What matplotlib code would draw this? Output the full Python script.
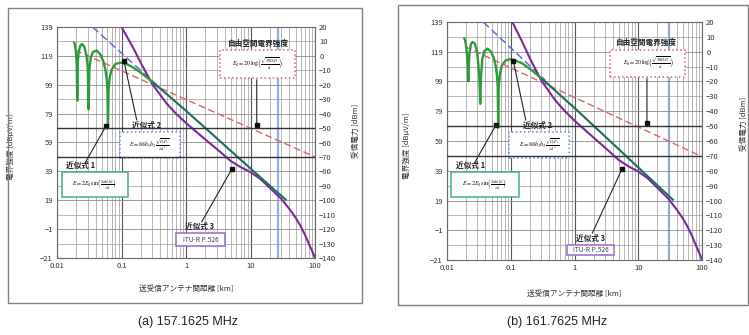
import matplotlib
matplotlib.use('Agg')
import matplotlib.pyplot as plt
from matplotlib.patches import Rectangle
from matplotlib.ticker import FixedLocator, LogLocator, NullFormatter
import numpy as np

plt.rcParams['font.family'] = ['Noto Sans CJK JP', 'DejaVu Sans']
plt.rcParams['mathtext.fontset'] = 'stix'

# values, distance in km, field strength in dBuV/m
captions = ['(a) 157.1625 MHz', '(b) 161.7625 MHz']

green_d_a = [0.0185, 0.019, 0.0196, 0.0202, 0.0206, 0.021, 0.0216, 0.0228, 0.0244, 0.0265,
             0.0285, 0.030, 0.0309, 0.0318, 0.0335, 0.036, 0.0412, 0.047, 0.052, 0.056,
             0.059, 0.0605, 0.0617, 0.063, 0.0655, 0.07, 0.08, 0.095, 0.115, 0.15, 0.2, 0.3]
green_e_a = [128, 126.4, 122.3, 113.9, 88, 114, 121, 125.8, 127.2, 125.3,
             119.9, 110.7, 82, 110.2, 118, 121.7, 122.7, 120, 115.6, 110.1,
             102.9, 95.6, 70, 94.9, 103.7, 109.2, 113.3, 114.3, 113.8, 111.1, 107.3, 101.1]
green_d_b = [0.0187, 0.0193, 0.0199, 0.0206, 0.0212, 0.0216, 0.022, 0.0226, 0.0238, 0.0252,
             0.0273, 0.0295, 0.031, 0.0322, 0.0332, 0.0342, 0.0358, 0.0385, 0.0433, 0.049,
             0.054, 0.058, 0.061, 0.0625, 0.0635, 0.0647, 0.0675, 0.072, 0.082, 0.097,
             0.113, 0.15, 0.2, 0.3]
green_e_b = [128, 126.5, 123, 117, 108, 99, 110, 118.5, 124.3, 125.6,
             124.5, 119.5, 111, 101, 84, 103, 114, 119.5, 121.1, 119,
             115, 109.5, 102.5, 95, 68, 95, 104, 109.5, 113, 114,
             113.3, 111.3, 107.5, 101.3]

teal_d = [0.3, 0.5, 1, 2, 5, 10, 20, 35]
teal_e_a = [101.1, 92.6, 81, 69, 53, 41, 29, 19.5]
teal_e_b = [101.3, 92.8, 81.2, 69.2, 53.3, 41.2, 29.2, 19.5]

purple_d_a = [0.1, 0.15, 0.2, 0.3, 0.5, 0.7, 1, 2, 3, 5, 7, 10, 14, 20, 30, 40, 50, 60, 70, 80, 90, 100]
purple_d_b = [0.106, 0.15, 0.2, 0.3, 0.5, 0.7, 1, 2, 3, 5, 7, 10, 14, 20, 30, 40, 50, 60, 70, 80, 90, 100]
purple_e_a = [139, 125, 114, 99.5, 86, 79, 72.5, 61, 54.5, 46, 42, 38.5, 34, 27.5, 20, 13, 7, 1, -5, -11, -16, -21]
purple_e_b = [139, 126, 114.5, 99.8, 86.3, 79.3, 72.7, 61.2, 54.6, 46.1, 42, 38.5, 34, 27.5, 20, 13, 7, 1, -5, -11, -16, -21]

red_d = [0.019, 100]
red_e_a = [123, 49]
red_e_b = [122.5, 48.5]

blue_d_a = [0.0355, 0.35]
blue_d_b = [0.037, 0.35]
blue_e_a = [139, 99]
blue_e_b = [139, 99.7]

horizon_km = [27, 30]
dark_levels_dbm = [-50, -70]

fig = plt.figure(figsize=(7.49, 3.35), dpi=100)

# panel frames (figure pixels)
fig.add_artist(Rectangle((8 / 749, 1 - 303 / 335), 354 / 749, 295 / 335, transform=fig.transFigure,
                         fill=False, edgecolor='#808080', lw=1.0))
fig.add_artist(Rectangle((398 / 749, 1 - 305 / 335), 350 / 749, 300 / 335, transform=fig.transFigure,
                         fill=False, edgecolor='#808080', lw=1.0))

ax_a = fig.add_axes([57 / 749, 1 - 258 / 335, 258 / 749, 231 / 335])
ax_b = fig.add_axes([447 / 749, 1 - 260 / 335, 255 / 749, 238 / 335])

txtc = '#333333'


def box(ax, x0, x1, y0, y1, color, ls):
    r = Rectangle((x0, y0), x1 - x0, y1 - y0, fill=True, facecolor='white', edgecolor=color,
                  lw=1.1, ls=ls, zorder=6)
    ax.add_patch(r)


def pointer(ax, tail, tip):
    ax.annotate('', xy=tip, xytext=tail, zorder=7,
                arrowprops=dict(arrowstyle='-', color='#222222', lw=0.8, shrinkA=0, shrinkB=0))
    ax.plot([tip[0]], [tip[1]], marker='s', ms=2.3, color='#111111', zorder=8)


def draw(ax, gd, ge, te, pdd, pe, re, bd, be, hz):
    ax.set_xscale('log')
    ax.set_xlim(0.01, 100)
    ax.set_ylim(-21, 139)
    ax.set_yticks(np.arange(-21, 140, 20))
    ax.yaxis.set_minor_locator(FixedLocator(np.arange(-21, 140, 10)))
    ax.xaxis.set_minor_locator(LogLocator(base=10, subs=np.arange(2, 10)))
    ax.xaxis.set_minor_formatter(NullFormatter())
    ax.set_xticks([0.01, 0.1, 1, 10, 100])
    ax.set_xticklabels(['0.01', '0.1', '1', '10', '100'])
    ax.grid(which='major', axis='x', color='#555555', lw=0.8, zorder=0)
    ax.grid(which='major', axis='y', color='#8a8a8a', lw=0.6, zorder=0)
    ax.grid(which='minor', color='#9a9a9a', lw=0.5, zorder=0)
    ax.tick_params(which='both', labelsize=5.5, colors=txtc, length=0, pad=3)
    for s in ax.spines.values():
        s.set_color('#666666')
        s.set_linewidth(0.8)

    ax2 = ax.twinx()
    ax2.set_ylim(-140, 20)
    ax2.set_yticks(np.arange(-140, 21, 10))
    ax2.tick_params(labelsize=5.5, colors=txtc, length=0, pad=3)
    for s in ax2.spines.values():
        s.set_visible(False)
    for lv in dark_levels_dbm:
        ax2.axhline(lv, color='#333333', lw=1.0, zorder=1)

    ax.axvline(hz, color='#8fb0e6', lw=1.6, zorder=1)
    ax.plot(red_d, re, color='#e86060', lw=1.0, ls=(0, (5, 2.5)), zorder=3)
    ax.plot(bd, be, color='#5b6fd8', lw=1.1, ls=(0, (5, 2.5)), zorder=3)
    ax.plot(pdd, pe, color='#7a2a9a', lw=1.5, zorder=4)
    ax.plot(teal_d, te, color='#1f6c5e', lw=1.5, zorder=5)
    ax.plot(gd, ge, color='#2f9a3a', lw=1.7, zorder=5)

    ax.set_xlabel('送受信アンテナ間距離 [km]', fontsize=5.5, color=txtc)
    ax.set_ylabel('電界強度 [dBμV/m]', fontsize=5.5, color=txtc)
    ax2.set_ylabel('受信電力 [dBm]', fontsize=5.5, color=txtc, rotation=90)
    return ax2


ax2a = draw(ax_a, green_d_a, green_e_a, teal_e_a, purple_d_a, purple_e_a, red_e_a,
            blue_d_a, blue_e_a, horizon_km[0])
ax2b = draw(ax_b, green_d_b, green_e_b, teal_e_b, purple_d_b, purple_e_b, red_e_b,
            blue_d_b, blue_e_b, horizon_km[1])

ax_a.xaxis.set_label_coords(0.5, -27 / 231)
ax_a.yaxis.set_label_coords(-42 / 258, 0.48)
ax2a.yaxis.set_label_coords(1 + 37 / 258, 0.55)
ax_b.xaxis.set_label_coords(0.5, -30 / 238)
ax_b.yaxis.set_label_coords(-36 / 255, 0.48)
ax2b.yaxis.set_label_coords(1 + 38 / 255, 0.57)

f_free = r'$E_0=20\,\log\!\left(\frac{\sqrt{30G_tP_t}}{d}\right)$'
f_one = r'$E=2E_0\,\sin\!\left(\frac{2\pi h_1h_2}{\lambda d}\right)$'
f_two = r'$E=88h_1h_2\,\frac{\sqrt{G_tP_t}}{\lambda d^2}$'
fs_f = 4.2
fs_l = 5.5

# (a) annotations
ax = ax_a
box(ax, 3.36, 48.5, 103.5, 123, '#e05a7a', ':')
ax.text(np.sqrt(3.36 * 48.5), 113.2, f_free, fontsize=fs_f, ha='center', va='center', zorder=7)
ax.text(13.1, 127.7, '自由空間電界強度', fontsize=fs_l, weight='bold', ha='center', va='center', color='#222', zorder=7)
pointer(ax, (12.5, 102.5), (12.5, 71))
box(ax, 0.095, 0.8, 48, 66.5, '#5b8fd0', ':')
ax.text(np.sqrt(0.095 * 0.8), 57.2, f_two, fontsize=fs_f, ha='center', va='center', zorder=7)
ax.text(0.245, 70.5, '近似式 2', fontsize=fs_l, weight='bold', ha='center', va='center', color='#222', zorder=7)
pointer(ax, (0.172, 74.6), (0.109, 115.5))
box(ax, 0.0118, 0.127, 21.5, 38.8, '#3cb878', '-')
ax.text(np.sqrt(0.0118 * 0.127), 30.1, f_one, fontsize=fs_f, ha='center', va='center', zorder=7)
ax.text(0.0228, 43.4, '近似式 1', fontsize=fs_l, weight='bold', ha='center', va='center', color='#222', zorder=7)
pointer(ax, (0.0272, 44.8), (0.0575, 70.4))
box(ax, 0.71, 4.0, -13, -4, '#9a66c8', '-')
ax.text(np.sqrt(0.71 * 4.0), -8.5, 'ITU-R P.526', fontsize=4.8, ha='center', va='center', color='#444', zorder=7)
ax.text(1.65, 0.7, '近似式 3', fontsize=fs_l, weight='bold', ha='center', va='center', color='#222', zorder=7)
pointer(ax, (1.75, 4), (5.1, 40.4))

# (b) annotations
ax = ax_b
box(ax, 3.67, 54.7, 102, 120, '#e05a7a', ':')
ax.text(np.sqrt(3.67 * 54.7), 111, f_free, fontsize=fs_f, ha='center', va='center', zorder=7)
ax.text(13.5, 125, '自由空間電界強度', fontsize=fs_l, weight='bold', ha='center', va='center', color='#222', zorder=7)
pointer(ax, (13.7, 101), (13.7, 70.8))
box(ax, 0.0944, 0.82, 47.3, 65, '#5b8fd0', ':')
ax.text(np.sqrt(0.0944 * 0.82), 56.2, f_two, fontsize=fs_f, ha='center', va='center', zorder=7)
ax.text(0.26, 69.6, '近似式 2', fontsize=fs_l, weight='bold', ha='center', va='center', color='#222', zorder=7)
pointer(ax, (0.172, 73), (0.11, 112.6))
box(ax, 0.0115, 0.135, 21.5, 38.3, '#3cb878', '-')
ax.text(np.sqrt(0.0115 * 0.135), 29.9, f_one, fontsize=fs_f, ha='center', va='center', zorder=7)
ax.text(0.0237, 42.8, '近似式 1', fontsize=fs_l, weight='bold', ha='center', va='center', color='#222', zorder=7)
pointer(ax, (0.0267, 43.9), (0.0584, 69.6))
box(ax, 0.77, 4.1, -17.6, -11, '#9a66c8', '-')
ax.text(np.sqrt(0.77 * 4.1), -14.3, 'ITU-R P.526', fontsize=4.8, ha='center', va='center', color='#444', zorder=7)
ax.text(1.79, -6.4, '近似式 3', fontsize=fs_l, weight='bold', ha='center', va='center', color='#222', zorder=7)
pointer(ax, (1.9, -3), (5.6, 40.5))

fig.text(188 / 749, 1 - 322 / 335, captions[0], fontsize=9, ha='center', va='center', color='#222',
         family=['Liberation Sans', 'DejaVu Sans'])
fig.text(557 / 749, 1 - 322 / 335, captions[1], fontsize=9, ha='center', va='center', color='#222',
         family=['Liberation Sans', 'DejaVu Sans'])

fig.savefig('out.png', dpi=100)
